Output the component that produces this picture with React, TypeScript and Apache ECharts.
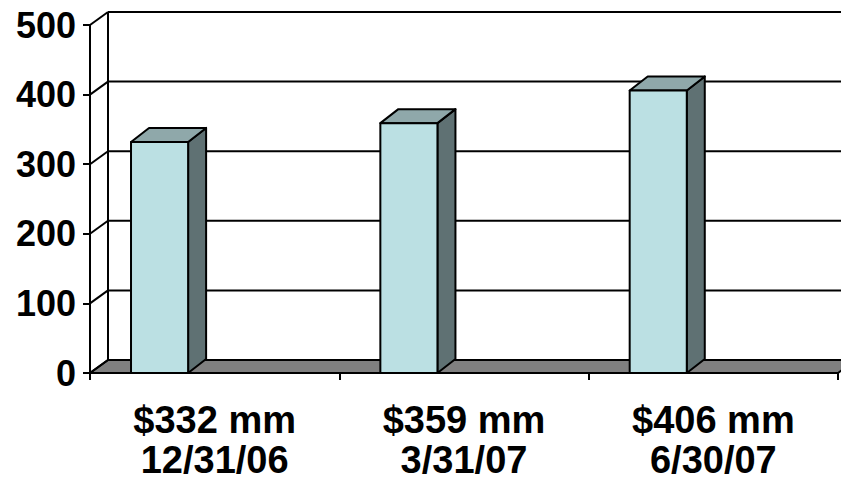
import React, { useEffect, useRef } from "react";
import * as echarts from "echarts";

// Balance per quarter-end date
const amounts = ["$332 mm", "$359 mm", "$406 mm"];
const dates = ["12/31/06", "3/31/07", "6/30/07"];
const values = [332, 359, 406];
const yTicks = [0, 100, 200, 300, 400, 500];

// 3D look: offset of the back plane from the front plane (px)
const DEPTH_X = 18;
const DEPTH_Y = 13;
// Bar front face width and shift, as fractions of a category band
const BAR_WIDTH_RATIO = 0.229;
const BAR_SHIFT_RATIO = 0.221;

const FONT = "Arial, 'Liberation Sans', sans-serif";
const LINE = "#000000";
const LW = 2;
const FLOOR = "#808080";
const FACE_FRONT = "#bbe0e3";
const FACE_TOP = "#8fa8aa";
const FACE_SIDE = "#5f7173";

export default function App() {
  const ref = useRef<HTMLDivElement>(null);

  useEffect(() => {
    if (!ref.current) return;
    const chart = echarts.init(ref.current, undefined, { renderer: "svg" });

    const categories = amounts.map((a, i) => `${a}\n${dates[i]}`);

    const option: any = {
      animation: false,
      backgroundColor: "#ffffff",
      grid: { left: 90, right: 3, top: 25, bottom: 97, containLabel: false },
      xAxis: {
        type: "category",
        data: categories,
        boundaryGap: true,
        axisLine: { show: true, lineStyle: { color: LINE, width: LW } },
        axisTick: { show: true, length: 7, interval: 0, alignWithLabel: false, lineStyle: { color: LINE, width: LW } },
        axisLabel: {
          interval: 0,
          margin: 27,
          color: "#000",
          fontSize: 38,
          fontWeight: "bold",
          fontFamily: FONT,
          lineHeight: 40,
        },
        splitLine: { show: false },
      },
      yAxis: {
        type: "value",
        min: 0,
        max: 500,
        interval: 100,
        axisLine: { show: true, lineStyle: { color: LINE, width: LW } },
        axisTick: { show: true, length: 7, lineStyle: { color: LINE, width: LW } },
        axisLabel: {
          margin: 14,
          color: "#000",
          fontSize: 36,
          fontWeight: "bold",
          fontFamily: FONT,
        },
        splitLine: { show: false },
      },
      series: [
        {
          // walls, floor and back gridlines
          type: "custom",
          z: 1,
          silent: true,
          data: yTicks.map((v) => [0, v]),
          encode: { x: 0, y: 1 },
          renderItem: (params: any, api: any) => {
            const cs = params.coordSys;
            const L = cs.x;
            const R = cs.x + cs.width;
            const v = api.value(1);
            const y = api.coord([0, v])[1];
            const children: any[] = [];
            if (v === 0) {
              children.push({
                type: "polygon",
                shape: {
                  points: [
                    [L, y],
                    [R, y],
                    [R + DEPTH_X, y - DEPTH_Y],
                    [L + DEPTH_X, y - DEPTH_Y],
                  ],
                },
                style: { fill: FLOOR, stroke: LINE, lineWidth: LW },
              });
              children.push({
                type: "line",
                shape: { x1: L + DEPTH_X, y1: cs.y - DEPTH_Y, x2: L + DEPTH_X, y2: y - DEPTH_Y },
                style: { stroke: LINE, lineWidth: LW },
              });
            } else {
              children.push({
                type: "line",
                shape: { x1: L + DEPTH_X, y1: y - DEPTH_Y, x2: R + DEPTH_X, y2: y - DEPTH_Y },
                style: { stroke: LINE, lineWidth: LW },
              });
            }
            children.push({
              type: "line",
              shape: { x1: L, y1: y, x2: L + DEPTH_X, y2: y - DEPTH_Y },
              style: { stroke: LINE, lineWidth: LW },
            });
            return { type: "group", children };
          },
        },
        {
          // 3D bars
          type: "custom",
          z: 3,
          data: values.map((v, i) => [i, v]),
          encode: { x: 0, y: 1 },
          renderItem: (_params: any, api: any) => {
            const idx = api.value(0);
            const val = api.value(1);
            const top = api.coord([idx, val]);
            const base = api.coord([idx, 0]);
            const band = api.size([1, 0])[0];
            const w = band * BAR_WIDTH_RATIO;
            const cx = top[0] - band * BAR_SHIFT_RATIO;
            const x0 = cx - w / 2;
            const x1 = cx + w / 2;
            const yT = top[1];
            const yB = base[1];
            const dy = DEPTH_Y + 1;
            const stroke = { stroke: LINE, lineWidth: LW, lineJoin: "round" };
            return {
              type: "group",
              children: [
                {
                  type: "polygon",
                  shape: {
                    points: [
                      [x1, yT],
                      [x1 + DEPTH_X, yT - dy],
                      [x1 + DEPTH_X, yB - dy],
                      [x1, yB],
                    ],
                  },
                  style: { fill: FACE_SIDE, ...stroke },
                },
                {
                  type: "polygon",
                  shape: {
                    points: [
                      [x0, yT],
                      [x0 + DEPTH_X, yT - dy],
                      [x1 + DEPTH_X, yT - dy],
                      [x1, yT],
                    ],
                  },
                  style: { fill: FACE_TOP, ...stroke },
                },
                {
                  type: "rect",
                  shape: { x: x0, y: yT, width: w, height: yB - yT },
                  style: { fill: FACE_FRONT, ...stroke },
                },
              ],
            };
          },
        },
      ],
    };

    chart.setOption(option);
    return () => chart.dispose();
  }, []);

  return (
    <div
      ref={ref}
      style={{ position: "fixed", left: 0, top: 0, width: 841, height: 480, background: "#fff" }}
    />
  );
}
